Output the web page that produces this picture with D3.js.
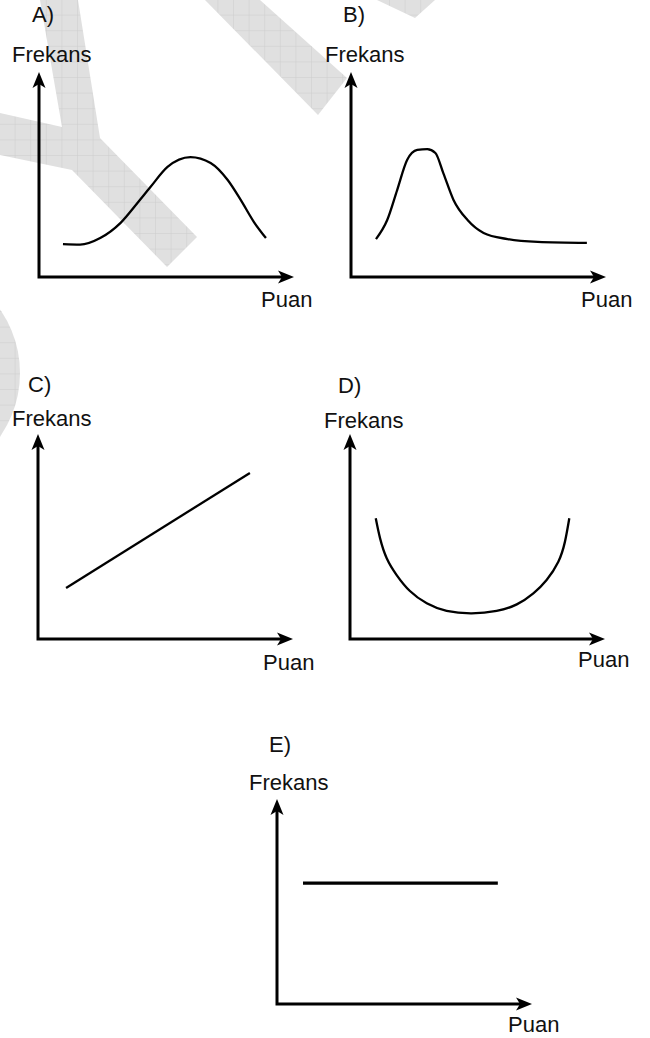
<!DOCTYPE html>
<html>
<head>
<meta charset="utf-8">
<script src="https://cdn.jsdelivr.net/npm/d3@7"></script>
<style>
  body { margin: 0; background: #fff; }
  text { font-family: "Liberation Sans", Arial, sans-serif; font-size: 22px; fill: #111; }
</style>
</head>
<body>
<div id="chart"></div>
<script>
// Panel names and axis labels
var panelNames = ["A)", "B)", "C)", "D)", "E)"];
var xLabel = "Puan";
var yLabel = "Frekans";

// Curves, both axes in units 0..10
var curveAx = [0.94, 1.61, 2.40, 3.19, 3.86, 4.37, 5.04, 5.94, 6.73, 7.40, 7.91, 8.43, 8.90];
var curveAy = [1.60, 1.58, 1.90, 2.63, 3.61, 4.39, 5.37, 5.85, 5.56, 4.73, 3.76, 2.68, 1.90];

var curveBx = [0.98, 1.42, 1.81, 2.20, 2.60, 2.99, 3.31, 3.62, 4.02, 4.57, 5.20, 6.14, 7.32, 9.25];
var curveBy = [1.85, 2.78, 4.24, 5.71, 6.20, 6.24, 6.05, 5.07, 3.76, 2.78, 2.15, 1.85, 1.71, 1.66];

var curveCx = [1.10, 8.31];
var curveCy = [2.49, 8.10];

var curveDx = [1.01, 1.18, 1.44, 1.83, 2.35, 3.01, 3.79, 4.77, 5.75, 6.54, 7.19, 7.71, 8.17, 8.43, 8.60];
var curveDy = [5.89, 4.91, 3.94, 3.12, 2.34, 1.74, 1.37, 1.25, 1.37, 1.69, 2.23, 2.88, 3.77, 4.75, 5.89];

var curveEx = [1.02, 8.66];
var curveEy = [5.90, 5.90];

var seriesX = [curveAx, curveBx, curveCx, curveDx, curveEx];
var seriesY = [curveAy, curveBy, curveCy, curveDy, curveEy];

// layout of each panel: axis origin and label offsets from it
var layout = [
  {ox: 39,  oy: 277,  name: [-7, -255],  ylab: [-27, -215], xlab: [222, 30], sw: 2.3, curve: d3.curveMonotoneX},
  {ox: 351, oy: 277,  name: [-8, -255],  ylab: [-26, -215], xlab: [230, 30], sw: 2.3, curve: d3.curveMonotoneX},
  {ox: 38,  oy: 639,  name: [-10, -247], ylab: [-26, -213], xlab: [225, 31], sw: 2.3, curve: d3.curveLinear},
  {ox: 350, oy: 639,  name: [-12, -246], ylab: [-26, -211], xlab: [228, 28], sw: 2.3, curve: d3.curveNatural},
  {ox: 277, oy: 1004, name: [-8, -252],  ylab: [-28, -214], xlab: [231, 28], sw: 3.2, curve: d3.curveLinear}
];

var axisW = 255, axisH = 205;

var svg = d3.select("#chart")
  .append("svg")
    .attr("width", 650)
    .attr("height", 1038);

// Watermark in the background
var defs = svg.append("defs");
var pat = defs.append("pattern")
    .attr("id", "grid")
    .attr("patternUnits", "userSpaceOnUse")
    .attr("width", 15.6)
    .attr("height", 15.6)
    .attr("x", 0)
    .attr("y", 0);
pat.append("rect").attr("width", 15.6).attr("height", 15.6).attr("fill", "#e0e0e0");
pat.append("path").attr("d", "M15.6,0V15.6M0,15.6H15.6").attr("stroke", "#cdcdcd").attr("stroke-width", 1);

var marks = [
  [[40,0],[78,0],[100,138],[197,237],[167,267],[72,170],[0,155],[0,113],[62,127]],
  [[205,0],[260,0],[347,78],[318,115]],
  [[377,0],[415,18],[435,0]]
];
svg.append("g").selectAll("polygon")
  .data(marks)
  .enter().append("polygon")
    .attr("points", function(d) { return d.join(" "); })
    .attr("fill", "url(#grid)");
svg.append("circle")
    .attr("cx", -91).attr("cy", 373).attr("r", 111)
    .attr("fill", "url(#grid)");

var x = d3.scaleLinear().domain([0, 10]).range([0, axisW]);
var y = d3.scaleLinear().domain([0, 10]).range([axisH, 0]);

panelNames.forEach(function(name, i) {
  var p = layout[i];
  var g = svg.append("g")
      .attr("transform", "translate(" + p.ox + "," + (p.oy - axisH) + ")");

  // Axes with arrow heads
  g.append("path")
      .attr("d", "M" + x(0) + "," + (y(10) + 10) + "V" + y(0) + "H" + (x(10) - 10))
      .attr("fill", "none")
      .attr("stroke", "#000")
      .attr("stroke-width", 3)
      .attr("stroke-linejoin", "miter");

  g.append("path")
      .attr("transform", "translate(" + x(10) + "," + y(0) + ")")
      .attr("d", "M0,0L-16,-6.5L-12,0L-16,6.5Z")
      .attr("fill", "#000");
  g.append("path")
      .attr("transform", "translate(" + x(0) + "," + y(10) + ") rotate(-90)")
      .attr("d", "M0,0L-16,-6.5L-12,0L-16,6.5Z")
      .attr("fill", "#000");

  // The curve
  var pts = seriesX[i].map(function(v, j) { return [v, seriesY[i][j]]; });
  var line = d3.line()
      .x(function(d) { return x(d[0]); })
      .y(function(d) { return y(d[1]); })
      .curve(p.curve);
  g.append("path")
      .datum(pts)
      .attr("d", line)
      .attr("fill", "none")
      .attr("stroke", "#000")
      .attr("stroke-width", p.sw);

  // Labels
  g.append("text").attr("x", p.name[0]).attr("y", axisH + p.name[1]).text(name);
  g.append("text").attr("x", p.ylab[0]).attr("y", axisH + p.ylab[1]).text(yLabel);
  g.append("text").attr("x", p.xlab[0]).attr("y", axisH + p.xlab[1]).text(xLabel);
});
</script>
</body>
</html>
